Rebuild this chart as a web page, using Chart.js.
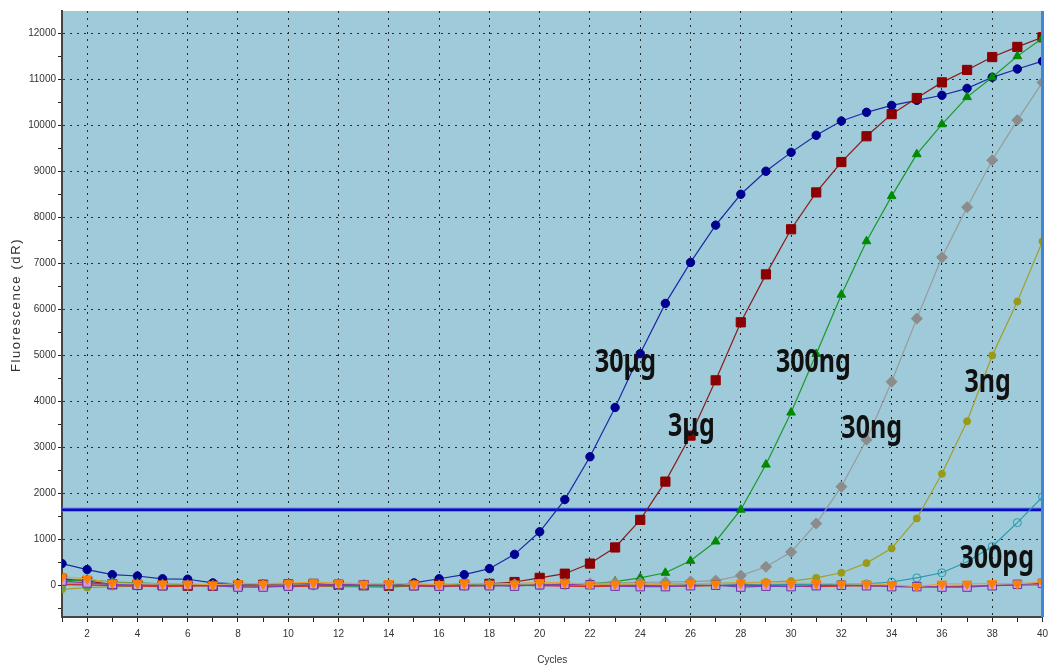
<!DOCTYPE html>
<html>
<head>
<meta charset="utf-8">
<script src="https://cdn.jsdelivr.net/npm/chart.js@4"></script>
<style>
  html, body { margin: 0; padding: 0; background: #fff; }
  #wrap { width: 1050px; height: 668px; position: relative; }
</style>
</head>
<body>
<div id="wrap"><canvas id="qpcrChart"></canvas></div>
<script>
// cycles 1..40
const cykly = [];
for (let i = 1; i <= 40; i++) cykly.push(i);

const nazvy = ["30μg", "3μg", "300ng", "30ng", "3ng", "300pg"];

const s30ug = [480,350,240,210,150,140,60,40,30,30, 30,20,20,0,60,150,240,370,680,1170,
  1870,2800,3870,5040,6130,7020,7830,8500,9000,9410, 9780,10090,10280,10430,10540,10650,10800,11040,11220,11390];
const s3ug = [150,100,30,20,10,0,0,10,20,30, 40,20,10,0,10,30,20,40,80,170,
  260,480,830,1430,2260,3260,4460,5720,6760,7740, 8540,9200,9760,10240,10590,10930,11200,11480,11700,11910];
const s300ng = [100,130,80,60,40,20,10,0,10,-10, 0,-20,-20,-30,0,10,20,10,0,30,
  20,40,90,170,280,540,960,1650,2630,3760, 5030,6320,7480,8460,9370,10020,10610,11040,11500,11890];
const s30ng = [60,40,30,20,10,10,0,0,10,20, 20,30,20,10,10,0,10,20,30,30,
  40,50,60,70,80,90,110,220,410,730, 1350,2150,3170,4430,5800,7130,8220,9240,10110,10930];
const s3ng = [-80,-40,-20,-10,0,10,0,-10,0,10, 0,-10,0,10,0,20,10,0,10,20,
  10,20,20,30,40,40,50,60,80,100, 170,280,490,810,1460,2430,3570,5000,6170,7480];
const s300pg = [20,10,0,-10,0,10,0,10,0,0, 10,0,-10,0,10,0,10,20,10,0,
  10,20,10,0,10,20,10,30,20,30, 20,30,40,80,170,280,520,850,1370,1930];

// negative / baseline wells
const ntcA = [190,150,60,50,40,40,20,50,40,60, 70,60,40,50,40,30,50,40,40,70,
  60,30,40,40,30,50,40,60,60,50, 50,40,40,20,-20,40,40,50,40,80];
const ntcB = [100,60,30,10,0,10,0,-30,-30,-10, 20,30,20,10,0,-10,0,0,-10,20,
  30,20,-10,-20,-20,0,10,-30,-10,-20, 0,10,0,-20,-20,-30,-30,0,30,50];
const ntcC = [30,20,0,-10,-20,-10,0,0,-10,-20, -10,0,10,0,-10,-20,-10,0,10,0,
  -10,-20,-10,0,-10,-10,0,10,0,-10, -20,-10,0,-10,-30,-20,-10,0,10,20];

const prah = [1650];

// labelled ticks, plus unlabelled minor ticks between them
const yTicky = [0,1000,2000,3000,4000,5000,6000,7000,8000,9000,10000,11000,12000];
const yMinor = [-500,500,1500,2500,3500,4500,5500,6500,7500,8500,9500,10500,11500];

// annotation anchor: [cycle, dR]
const popisky = [[22.2, 4650], [25.1, 3240], [29.4, 4650], [32.0, 3200], [36.9, 4200], [36.7, 380]];

function body(arr) {
  return arr.map((v, i) => ({ x: cykly[i], y: v }));
}

function krivka(label, data, farba, ciara, styl, r, extra) {
  return Object.assign({
    label: label,
    data: body(data),
    borderColor: ciara,
    backgroundColor: farba,
    pointBorderColor: farba,
    pointBackgroundColor: farba,
    borderWidth: 1.2,
    pointStyle: styl,
    pointRadius: r,
    pointBorderWidth: 1,
    tension: 0
  }, extra || {});
}

const pozadie = {
  id: "pozadie",
  beforeDraw(chart) {
    const a = chart.chartArea, c = chart.ctx;
    c.save();
    c.fillStyle = "#9ecad9";
    c.fillRect(a.left, a.top, a.right - a.left, a.bottom - a.top);
    c.restore();
  },
  afterDatasetsDraw(chart) {
    const a = chart.chartArea, c = chart.ctx;
    const xs = chart.scales.x, ys = chart.scales.y;
    c.save();
    c.strokeStyle = "#3f86d8";
    c.lineWidth = 3;
    c.beginPath();
    c.moveTo(a.right, a.top);
    c.lineTo(a.right, a.bottom);
    c.stroke();

    c.fillStyle = "#111";
    c.font = "bold 32px 'Noto Sans'";
    c.textBaseline = "alphabetic";
    nazvy.forEach((t, i) => {
      const px = xs.getPixelForValue(popisky[i][0]);
      const py = ys.getPixelForValue(popisky[i][1]);
      c.save();
      c.translate(px, py);
      c.scale(0.78, 1);
      c.fillText(t, 0, 0);
      c.restore();
    });
    c.restore();
  },
  afterDraw(chart) {
    // y axis title, spaced out like the instrument software
    const c = chart.ctx, a = chart.chartArea;
    c.save();
    c.translate(16, 305);
    c.rotate(-Math.PI / 2);
    c.fillStyle = "#333";
    c.font = "13px 'Liberation Sans', Arial";
    c.letterSpacing = "1.6px";
    c.textAlign = "center";
    c.textBaseline = "middle";
    c.fillText("Fluorescence (dR)", 0, 0);
    c.restore();
  }
};

const ctx = document.getElementById("qpcrChart").getContext("2d");

new Chart(ctx, {
  type: "line",
  data: {
    datasets: [
      krivka("NTC A", ntcA, "#ff7f00", "#e0a040", "triangle", 5.5, { pointRotation: 180 }),
      krivka("NTC B", ntcB, "rgba(205,165,235,0.9)", "#8040b0", "rect", 6, { pointBorderColor: "#7030a0" }),
      krivka("NTC C", ntcC, "#d03030", "#d03030", "circle", 0),
      krivka(nazvy[5], s300pg, "transparent", "#2a9aaa", "circle", 4, { pointBorderColor: "#2a9aaa" }),
      krivka(nazvy[4], s3ng, "#9a9a1a", "#a0a028", "circle", 3.5),
      krivka(nazvy[3], s30ng, "#8c8c8c", "#9a9a9a", "rectRot", 5.5),
      krivka(nazvy[2], s300ng, "#008a00", "#1a9a2a", "triangle", 5),
      krivka(nazvy[1], s3ug, "#8b0000", "#8b1a1a", "rect", 6.5),
      krivka(nazvy[0], s30ug, "#000090", "#1a2aa8", "circle", 4.2),
      {
        label: "prah",
        data: [{ x: 1, y: prah[0] }, { x: 40, y: prah[0] }],
        borderColor: "#0a0ac0",
        borderWidth: 2.5,
        pointRadius: 0
      },
      {
        label: "prah halo",
        data: [{ x: 1, y: prah[0] }, { x: 40, y: prah[0] }],
        borderColor: "rgba(90,130,235,0.8)",
        borderWidth: 4.5,
        pointRadius: 0
      }
    ]
  },
  options: {
    responsive: true,
    maintainAspectRatio: false,
    animation: false,
    layout: { padding: { top: 11, right: 5, left: 0, bottom: 0 } },
    plugins: {
      legend: { display: false },
      tooltip: { enabled: false }
    },
    scales: {
      x: {
        type: "linear",
        min: 1,
        max: 40,
        afterFit(s) { s.height = 51; s.paddingLeft = 0; s.paddingRight = 0; },
        ticks: {
          stepSize: 1,
          autoSkip: false,
          maxRotation: 0,
          padding: 6,
          color: "#333",
          font: { family: "'Liberation Sans', Arial", size: 10 },
          callback: (v) => (v % 2 === 0 ? String(v) : "")
        },
        grid: {
          color: (c) => (c.tick && c.tick.value % 2 === 0 && c.tick.value < 40 ? "#2a2a2a" : "transparent"),
          tickColor: "#222",
          tickLength: 5,
          lineWidth: 1
        },
        border: { color: "#444", width: 2, dash: [2, 5] },
        title: {
          display: true,
          text: "Cycles",
          color: "#333",
          font: { family: "'Liberation Sans', Arial", size: 10 },
          padding: { top: 0, bottom: 2 }
        }
      },
      y: {
        min: -680,
        max: 12480,
        afterFit(s) { s.width = 62; },
        afterBuildTicks(s) {
          s.ticks = yTicky.concat(yMinor).sort((a, b) => a - b).map((v) => ({ value: v }));
        },
        ticks: {
          autoSkip: false,
          padding: 2,
          color: "#333",
          font: { family: "'Liberation Sans', Arial", size: 10 },
          callback: (v) => (yTicky.includes(v) ? String(v) : "")
        },
        grid: {
          color: (c) => (c.tick && yTicky.includes(c.tick.value) && c.tick.value !== 0 ? "#2a2a2a" : "transparent"),
          tickColor: "#222",
          tickLength: 4,
          lineWidth: 1
        },
        border: { color: "#444", width: 2, dash: [2, 5] }
      }
    }
  },
  plugins: [pozadie]
});
</script>
</body>
</html>
